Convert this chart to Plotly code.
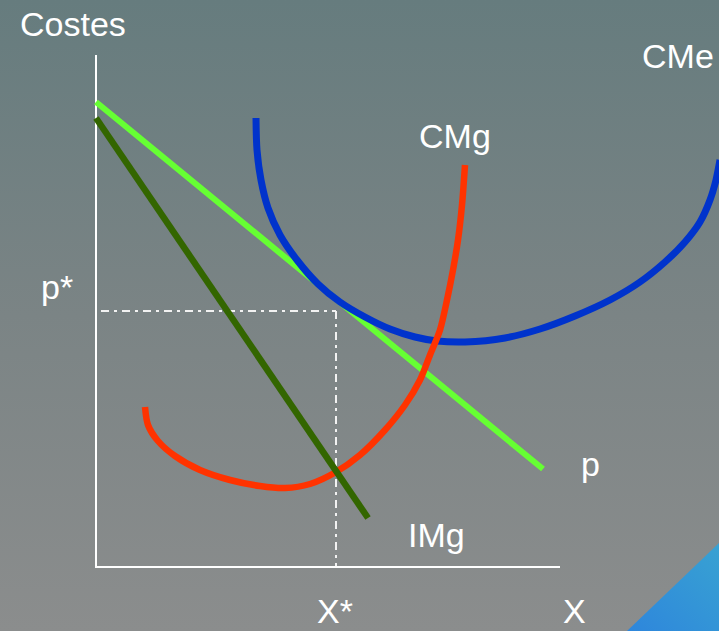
import base64
import plotly.graph_objects as go

# ---------------- data (axis units: origin at the axes' corner) ----------------
p_x = [0, 447]
p_y = [465, 98]

img_x = [0, 272]
img_y = [449, 49]

cmg_x = [49, 52, 62, 79, 104, 134, 164, 189, 214, 240, 264, 289, 309, 324, 334, 344, 351, 357, 362, 366, 369]
cmg_y = [160, 142, 126, 111, 97, 87, 81, 79, 83, 95, 112, 137, 162, 187, 212, 237, 267, 297, 327, 362, 402]

cme_x = [160, 161, 165, 172, 184, 201, 222, 244, 269, 294, 319, 341, 369, 409, 444, 479, 514, 544, 569, 589, 604, 614, 620, 624]
cme_y = [449, 417, 387, 359, 332, 307, 283, 265, 250, 238, 230, 226, 225, 229, 238, 251, 267, 285, 305, 325, 345, 367, 387, 407]

x_star = 240
p_star = 256

axis_x_end = 464
axis_y_end = 512

labels = ["Costes", "CMe", "CMg", "p*", "p", "IMg", "X*", "X"]
label_x = [-23, 582, 359, -39, 494, 340, 239, 478]
label_y = [543, 511, 431, 280, 103, 32, -64, -64]
label_anchor = ["middle", "middle", "middle", "middle", "middle", "middle", "bottom", "bottom"]

# ---------------- background (gradient + corner triangle) ----------------
W, H = 719, 631
svg = f'''<svg xmlns="http://www.w3.org/2000/svg" width="{W}" height="{H}" viewBox="0 0 {W} {H}" preserveAspectRatio="none">
<defs>
<linearGradient id="g" x1="0" y1="0" x2="0" y2="1">
<stop offset="0" stop-color="#667c7e"/>
<stop offset="0.5" stop-color="#7b8485"/>
<stop offset="1" stop-color="#8b8d8d"/>
</linearGradient>
<linearGradient id="b" x1="1" y1="0" x2="0" y2="1">
<stop offset="0" stop-color="#38a2d2"/>
<stop offset="1" stop-color="#2e86dc"/>
</linearGradient>
</defs>
<rect width="{W}" height="{H}" fill="url(#g)"/>
<polygon points="627,{H} {W},543 {W},{H}" fill="url(#b)"/>
</svg>'''
bg_src = "data:image/svg+xml;base64," + base64.b64encode(svg.encode()).decode()

fig = go.Figure()

# dash-dot guides
guide = dict(color="#f2f2f2", width=2, dash="8px,5px,3px,5px")
fig.add_trace(go.Scatter(x=[5, x_star], y=[p_star, p_star], mode="lines", line=guide, hoverinfo="skip"))
fig.add_trace(go.Scatter(x=[x_star, x_star], y=[p_star, 0], mode="lines", line=guide, hoverinfo="skip"))

# axes
fig.add_trace(go.Scatter(x=[0, 0, axis_x_end], y=[axis_y_end, 0, 0], mode="lines",
                         line=dict(color="white", width=2), hoverinfo="skip"))

# curves (drawing order: p, CMe, CMg, IMg)
fig.add_trace(go.Scatter(x=p_x, y=p_y, mode="lines", line=dict(color="#66ff33", width=6)))
fig.add_trace(go.Scatter(x=cme_x, y=cme_y, mode="lines",
                         line=dict(color="#0033cc", width=7, shape="spline", smoothing=0.8)))
fig.add_trace(go.Scatter(x=cmg_x, y=cmg_y, mode="lines",
                         line=dict(color="#ff3300", width=6.5, shape="spline", smoothing=0.8)))
fig.add_trace(go.Scatter(x=img_x, y=img_y, mode="lines", line=dict(color="#336600", width=6.5)))

for t, lx, ly, ya in zip(labels, label_x, label_y, label_anchor):
    fig.add_annotation(x=lx, y=ly, text=t, showarrow=False, xanchor="center", yanchor=ya,
                       borderpad=0,
                       font=dict(family="Liberation Sans, Arial, sans-serif", size=34, color="white"))

fig.update_layout(
    width=W, height=H,
    margin=dict(l=0, r=0, t=0, b=0),
    paper_bgcolor="#7b8485", plot_bgcolor="rgba(0,0,0,0)",
    showlegend=False,
    xaxis=dict(range=[-96, 623], visible=False, fixedrange=True),
    yaxis=dict(range=[-64, 567], visible=False, fixedrange=True),
    images=[dict(source=bg_src, xref="paper", yref="paper", x=0, y=1, sizex=1, sizey=1,
                 sizing="stretch", xanchor="left", yanchor="top", layer="below")],
)

fig.write_html("out.html", config={"displayModeBar": False},
               post_script="document.body.style.margin='0px';document.body.style.overflow='hidden';")
